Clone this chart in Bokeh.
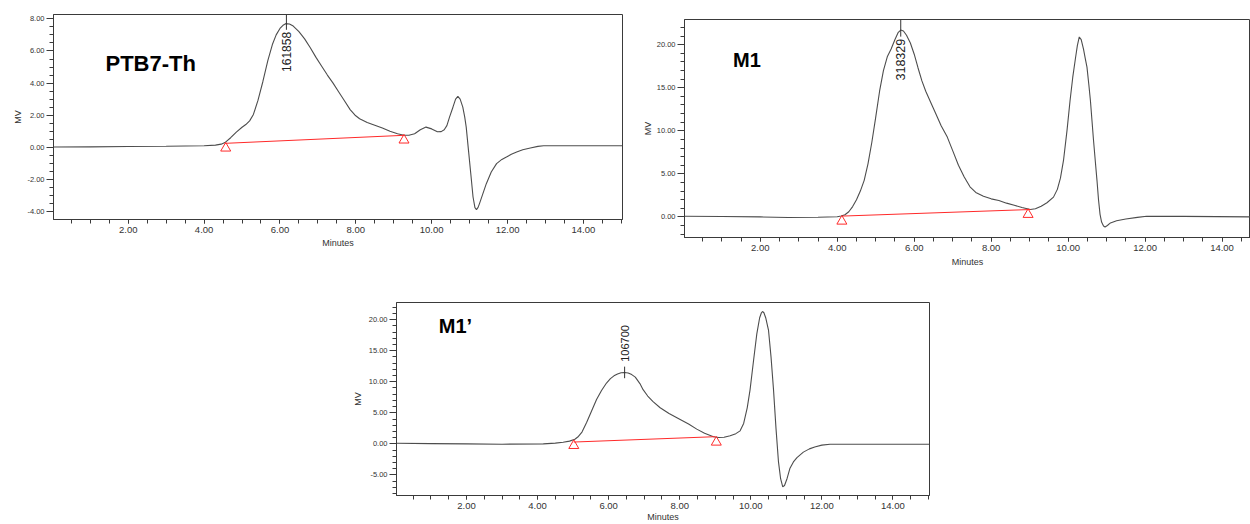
import math
from bokeh.plotting import figure
from bokeh.layouts import column, row
from bokeh.models import Spacer, SingleIntervalTicker, PrintfTickFormatter, Range1d, Label
from bokeh.core.properties import value
from bokeh.embed import file_html
from bokeh.resources import INLINE

# ---------------- data ----------------
ptb7_t = [0.03, 1.0, 2.0, 3.0, 4.0, 4.3, 4.45, 4.55, 4.7, 4.85, 5.0, 5.1, 5.2, 5.3, 5.42, 5.55, 5.68,
          5.8, 5.9, 6.0, 6.08, 6.15, 6.25, 6.35, 6.5, 6.65, 6.8, 6.95, 7.1, 7.25, 7.4, 7.55, 7.7,
          7.85, 7.98, 8.1, 8.3, 8.5, 8.7, 8.9, 9.1, 9.27, 9.4, 9.55, 9.7, 9.85, 10.0, 10.15, 10.25,
          10.33, 10.4, 10.47, 10.56, 10.63, 10.69, 10.75, 10.82, 10.87, 10.91, 10.97, 11.03, 11.09,
          11.14, 11.18, 11.22, 11.26, 11.35, 11.44, 11.57, 11.71, 11.85, 11.97, 12.1, 12.24, 12.4,
          12.6, 12.8, 12.95, 15.03]
ptb7_mv = [0.02, 0.03, 0.05, 0.07, 0.1, 0.14, 0.2, 0.3, 0.6, 0.95, 1.25, 1.42, 1.65, 2.05, 2.92, 4.1, 5.4,
           6.4, 7.0, 7.4, 7.6, 7.7, 7.68, 7.55, 7.2, 6.75, 6.2, 5.6, 5.05, 4.5, 4.0, 3.45, 2.9,
           2.35, 2.0, 1.78, 1.55, 1.38, 1.2, 1.0, 0.85, 0.75, 0.75, 0.85, 1.1, 1.26, 1.15, 0.97, 0.98,
           1.1, 1.35, 1.88, 2.5, 3.0, 3.17, 3.0, 2.5, 1.9, 1.26, -0.19, -1.63, -3.09,
           -3.75, -3.87, -3.75, -3.5, -2.88, -2.26, -1.53, -1.01, -0.75, -0.6, -0.43, -0.29, -0.15,
           -0.04, 0.06, 0.10, 0.10]

m1_t = [0.03, 1.0, 2.0, 2.72, 3.5, 4.0, 4.1, 4.2, 4.3, 4.4, 4.5, 4.6, 4.7, 4.8, 4.9, 5.0, 5.1, 5.2,
        5.3, 5.4, 5.5, 5.58, 5.65, 5.72, 5.8, 5.9, 6.0, 6.1, 6.2, 6.3, 6.43, 6.55, 6.7, 6.86, 7.0,
        7.15, 7.3, 7.45, 7.6, 7.8, 8.0, 8.2, 8.4, 8.6, 8.8, 9.02, 9.15, 9.3, 9.45, 9.62, 9.72, 9.8,
        9.88, 9.97, 10.05, 10.12, 10.19, 10.24, 10.29, 10.34, 10.4, 10.45, 10.49, 10.54, 10.58,
        10.62, 10.66, 10.71, 10.75, 10.79, 10.83, 10.87, 10.92, 10.96, 11.02, 11.1, 11.26, 11.5,
        11.8, 12.04, 13.0, 14.74]
m1_mv = [0.08, 0.05, 0.0, -0.07, -0.03, 0.02, 0.1, 0.25, 0.6, 1.2, 2.0, 3.0, 4.25, 6.2, 8.7, 11.6, 14.6, 17.0,
         18.6, 19.5, 20.6, 21.4, 21.7, 21.6, 21.1, 20.2, 18.9, 17.3, 15.8, 14.6, 13.3, 12.1, 10.6, 9.27, 7.7,
         6.0, 4.63, 3.5, 2.85, 2.4, 2.1, 1.9, 1.6, 1.35, 1.1, 0.86, 0.95, 1.25, 1.65, 2.3, 3.2, 4.5,
         6.56, 10.0, 13.5, 16.2, 18.4, 19.9, 20.9, 20.6, 19.5, 18.3, 17.4, 15.3, 13.5,
         11.2, 8.9, 6.3, 4.25, 2.0, 0.3, -0.6, -1.05, -1.16, -1.0, -0.7, -0.45, -0.25,
         -0.05, 0.08, 0.06, 0.0]

m1p_t = [0.03, 1.0, 2.0, 3.0, 4.16, 4.5, 4.72, 4.9, 5.05, 5.15, 5.25, 5.38, 5.52, 5.66, 5.8, 5.94, 6.05,
         6.15, 6.25, 6.35, 6.45, 6.55, 6.65, 6.75, 6.88, 6.97, 7.1, 7.25, 7.45, 7.7, 8.0, 8.25, 8.48,
         8.7, 8.95, 9.1, 9.25, 9.42, 9.58, 9.70, 9.8, 9.9, 9.98, 10.08, 10.17, 10.25, 10.3, 10.33,
         10.37, 10.42, 10.5, 10.57, 10.64, 10.71, 10.78, 10.84, 10.9, 10.95, 11.02, 11.1, 11.2,
         11.3, 11.48, 11.65, 11.8, 12.0, 12.23, 15.03]
m1p_mv = [0.1, 0.05, 0.0, -0.05, 0.0, 0.12, 0.27, 0.45, 0.75, 1.2, 1.9, 3.44, 5.3, 7.14, 8.6, 9.79, 10.5,
          10.95, 11.25, 11.45, 11.5, 11.4, 11.15, 10.75, 9.7, 8.73, 7.7, 6.8, 5.82, 4.9, 3.97, 3.2, 2.38,
          1.7, 1.16, 1.02, 1.08, 1.32, 1.65, 2.1, 3.3, 5.8, 8.7, 13.5, 17.7, 20.3, 21.1, 21.3,
          21.1, 20.3, 18.25, 14.0, 8.73, 2.5, -2.9, -5.6, -6.9, -6.7, -5.6, -3.97, -2.9,
          -2.2, -1.32, -0.8, -0.5, -0.2, -0.05, -0.05]

# integration baselines (start, end) and their markers
ptb7_base_t, ptb7_base_mv = [4.55, 9.27], [0.25, 0.75]
ptb7_mark_t, ptb7_mark_mv = [4.57, 9.27], [-0.05, 0.45]
m1_base_t, m1_base_mv = [4.15, 9.02], [0.1, 0.86]
m1_mark_t, m1_mark_mv = [4.12, 8.96], [-0.5, 0.28]
m1p_base_t, m1p_base_mv = [5.02, 9.0], [0.3, 1.16]
m1p_mark_t, m1p_mark_mv = [5.02, 9.03], [-0.27, 0.27]

# peak annotations (Mp values)
ptb7_peak_t, ptb7_peak_mv, ptb7_peak_label = 6.17, 7.7, "161858"
m1_peak_t, m1_peak_mv, m1_peak_label = 5.65, 21.7, "318329"
m1p_peak_t, m1p_peak_mv, m1p_peak_label = 6.45, 11.5, "106700"

FONT = "Liberation Sans"
AX = "#3a3a3a"


def make_panel(width, height, left, top, right, bottom, xr, yr, yint, ynminor, lbl_standoff_x, lbl_standoff_y):
    p = figure(width=width, height=height, output_backend="svg", toolbar_location=None,
               x_range=Range1d(*xr), y_range=Range1d(*yr))
    p.min_border_left = left
    p.min_border_top = top
    p.min_border_right = right
    p.min_border_bottom = bottom
    p.grid.visible = False
    p.outline_line_color = AX
    p.outline_line_width = 1
    p.background_fill_color = "white"
    p.border_fill_color = "white"
    p.xaxis.ticker = SingleIntervalTicker(interval=2, num_minor_ticks=4)
    p.yaxis.ticker = SingleIntervalTicker(interval=yint, num_minor_ticks=ynminor)
    for ax in (p.xaxis, p.yaxis):
        ax.formatter = PrintfTickFormatter(format="%.2f")
        ax.axis_line_color = AX
        ax.major_tick_line_color = AX
        ax.minor_tick_line_color = AX
        ax.major_tick_in = 0
        ax.minor_tick_in = 0
        ax.major_label_text_font = FONT
        ax.major_label_text_color = "#333333"
        ax.axis_label_text_font = FONT
        ax.axis_label_text_font_style = "normal"
        ax.axis_label_text_font_size = "9px"
        ax.axis_label_text_color = "#333333"
    p.xaxis.major_tick_out = 4
    p.xaxis.minor_tick_out = 4
    p.xaxis.major_label_standoff = 3
    p.xaxis.major_label_text_font_size = "9.5px"
    p.xaxis.axis_label = "Minutes"
    p.xaxis.axis_label_standoff = lbl_standoff_x
    p.yaxis.major_tick_out = 7
    p.yaxis.minor_tick_out = 4
    p.yaxis.major_label_standoff = 2
    p.yaxis.major_label_text_font_size = "7.5px"
    p.yaxis.axis_label = "MV"
    p.yaxis.axis_label_standoff = lbl_standoff_y
    return p


def draw(p, t, mv, bt, bmv, mt, mmv, pk_t, pk_mv, pk_label, above, fsize, title, tx, ty, tsize):
    p.line(t, mv, line_color="#4d4d4d", line_width=1.1)
    p.line(bt, bmv, line_color="#ff2a2a", line_width=1)
    p.scatter(mt, mmv, marker="triangle", size=10, fill_color=None, line_color="#ff2a2a", line_width=1)
    yr = p.y_range
    span = yr.end - yr.start
    if above:
        p.segment(x0=[pk_t], y0=[pk_mv + 0.03 * span], x1=[pk_t], y1=[pk_mv - 0.03 * span],
                  line_color="#333333", line_width=1)
        p.text(x=[pk_t], y=[pk_mv + 0.055 * span], text=[pk_label], angle=math.pi / 2,
               text_align="left", text_baseline="middle", text_font=value(FONT),
               text_font_size=fsize, text_color="#222222")
    else:
        p.segment(x0=[pk_t], y0=[yr.end - 0.002 * span], x1=[pk_t], y1=[pk_mv - 0.03 * span],
                  line_color="#333333", line_width=1)
        p.text(x=[pk_t], y=[pk_mv - 0.04 * span], text=[pk_label], angle=math.pi / 2,
               text_align="right", text_baseline="middle", text_font=value(FONT),
               text_font_size=fsize, text_color="#222222")
    p.add_layout(Label(x=tx, y=ty, text=title, text_font=FONT, text_font_style="bold",
                       text_font_size=tsize, text_baseline="middle", text_color="black"))


# Panel 1: PTB7-Th
p1 = make_panel(625, 272, 53, 14, 3, 53, (0.03, 15.03), (-4.49, 8.27), 2, 4, 2, 1)
draw(p1, ptb7_t, ptb7_mv, ptb7_base_t, ptb7_base_mv, ptb7_mark_t, ptb7_mark_mv,
     ptb7_peak_t, ptb7_peak_mv, ptb7_peak_label, False, "12px", "PTB7-Th", 1.40, 5.2, "22px")

# Panel 2: M1
p2 = make_panel(620, 272, 54, 19, 0, 35, (0.03, 14.74), (-2.39, 22.93), 5, 5, 3, 1)
draw(p2, m1_t, m1_mv, m1_base_t, m1_base_mv, m1_mark_t, m1_mark_mv,
     m1_peak_t, m1_peak_mv, m1_peak_label, False, "12.5px", "M1", 1.29, 18.2, "20px")

# Panel 3: M1'
p3 = make_panel(595, 252, 56, 30, 6, 27, (0.03, 15.03), (-8.3, 22.75), 5, 5, 0, 3)
draw(p3, m1p_t, m1p_mv, m1p_base_t, m1p_base_mv, m1p_mark_t, m1p_mark_mv,
     m1p_peak_t, m1p_peak_mv, m1p_peak_label, True, "11px", "M1\u2019", 1.22, 19.0, "20px")

layout = column(
    row(column(p1), Spacer(width=5, height=272), column(p2)),
    row(Spacer(width=340, height=252), column(p3)),
)

open("out.html", "w").write(file_html(layout, INLINE))
